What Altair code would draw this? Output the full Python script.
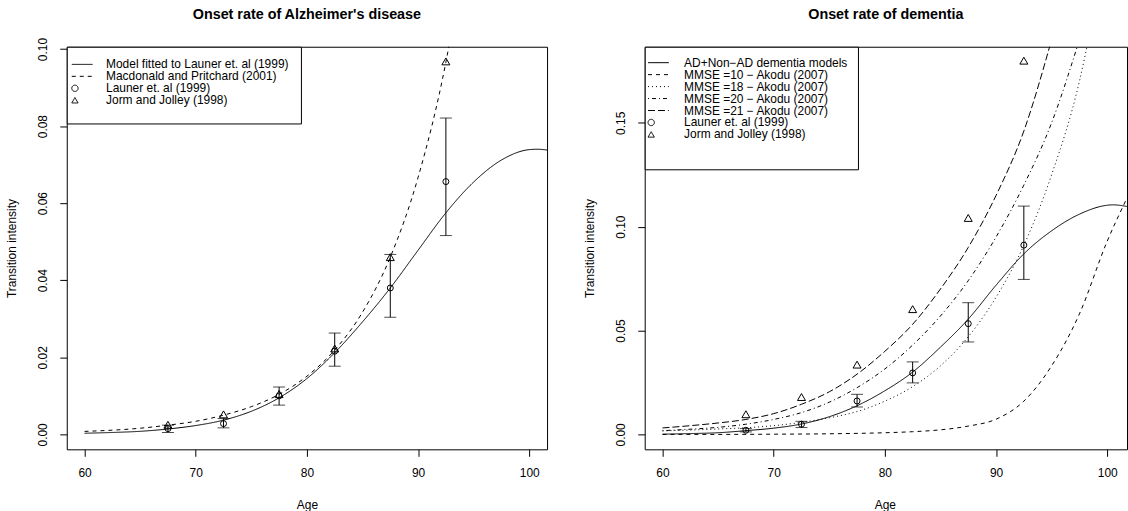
import altair as alt
import pandas as pd

FONT = "Liberation Sans"

# ---------------- Left panel: onset rate of Alzheimer's disease ----------------
ad_names = ["Model fitted to Launer et. al (1999)", "Macdonald and Pritchard (2001)",
            "Launer et. al (1999)", "Jorm and Jolley (1998)"]

ad_fit_age = [60, 62.5, 65, 67.5, 70, 72.5, 75, 77.5, 80, 82.5, 85, 87.5, 90, 92.5, 95, 97.5, 100, 100.7, 101.6]
ad_fit_rate = [0.0003, 0.0005, 0.0008, 0.0014, 0.0023, 0.0037, 0.0060, 0.0095, 0.0145, 0.0212, 0.0292,
               0.0380, 0.0478, 0.0575, 0.0655, 0.0712, 0.0739, 0.0740, 0.0738]

mp_age = [60, 62.5, 65, 67.5, 70, 72.5, 75, 77.5, 80, 82.5, 85, 87.5, 90, 92.5, 93.5]
mp_rate = [0.00078, 0.0011, 0.0016, 0.0024, 0.0034, 0.0050, 0.0072, 0.0104, 0.0151, 0.0219, 0.0317,
           0.0460, 0.0667, 0.0966, 0.1125]

pt_age = [67.5, 72.5, 77.5, 82.5, 87.5, 92.5]
launer_ad = [0.0015, 0.0028, 0.0100, 0.0216, 0.0380, 0.0656]
launer_ad_lo = [0.0005, 0.0017, 0.0076, 0.0177, 0.0304, 0.0516]
launer_ad_hi = [0.0024, 0.0041, 0.0123, 0.0263, 0.0467, 0.0821]
jorm_ad = [0.0025, 0.0052, 0.0105, 0.0223, 0.0460, 0.0968]

# ---------------- Right panel: onset rate of dementia ----------------
dem_names = ["AD+Non\u2212AD dementia models", "MMSE =10 \u2212 Akodu (2007)", "MMSE =18 \u2212 Akodu (2007)",
             "MMSE =20 \u2212 Akodu (2007)", "MMSE =21 \u2212 Akodu (2007)",
             "Launer et. al (1999)", "Jorm and Jolley (1998)"]

dem_fit_age = [60, 62.5, 65, 67.5, 70, 72.5, 75, 77.5, 80, 82.5, 85, 87.5, 90, 92.5, 95, 97.5, 100, 100.5, 101.8]
dem_fit_rate = [0.0001, 0.0004, 0.0008, 0.0018, 0.0030, 0.0050, 0.0085, 0.0138, 0.0210, 0.0300, 0.0420,
                0.0555, 0.0718, 0.0869, 0.0980, 0.1060, 0.1103, 0.1105, 0.1097]

mmse10_age = [60, 65, 70, 75, 80, 82.5, 85, 87.5, 90, 92.5, 95, 97.5, 100, 101.8]
mmse10_rate = [0.0000, 0.0000, 0.0001, 0.0003, 0.0008, 0.0013, 0.0022, 0.0040, 0.0073, 0.0160, 0.0330,
               0.0580, 0.0930, 0.1140]

mmse18_age = [60, 62.5, 65, 67.5, 70, 72.5, 75, 77.5, 80, 82.5, 85, 87.5, 90, 92.5, 95, 97.5, 98.5]
mmse18_rate = [0.0017, 0.0021, 0.0026, 0.0032, 0.0042, 0.0058, 0.0080, 0.0110, 0.0160, 0.0230, 0.0330,
               0.0470, 0.0660, 0.0910, 0.1250, 0.1700, 0.1950]

mmse20_age = [60, 62.5, 65, 67.5, 70, 72.5, 75, 77.5, 80, 82.5, 85, 87.5, 90, 92.5, 95, 97.5]
mmse20_rate = [0.0018, 0.0025, 0.0034, 0.0049, 0.0072, 0.0105, 0.0155, 0.0225, 0.0315, 0.0430, 0.0570,
               0.0740, 0.0950, 0.1200, 0.1500, 0.1900]

mmse21_age = [60, 62.5, 65, 67.5, 70, 72.5, 75, 77.5, 80, 82.5, 85, 87.5, 90, 92.5, 95]
mmse21_rate = [0.0031, 0.0042, 0.0055, 0.0072, 0.0100, 0.0145, 0.0205, 0.0290, 0.0400, 0.0530, 0.0700,
               0.0900, 0.1150, 0.1460, 0.1900]

launer_dem = [0.0020, 0.0049, 0.0161, 0.0296, 0.0533, 0.0911]
launer_dem_lo = [0.0012, 0.0033, 0.0132, 0.0248, 0.0445, 0.0746]
launer_dem_hi = [0.0028, 0.0063, 0.0193, 0.0349, 0.0634, 0.1099]
jorm_dem = [0.0097, 0.0180, 0.0336, 0.0603, 0.1042, 0.1799]

x_ticks = [60, 70, 80, 90, 100]
ad_y_ticks = [0.0, 0.02, 0.04, 0.06, 0.08, 0.10]
dem_y_ticks = [0.0, 0.05, 0.10, 0.15]

# ---------------- styling ----------------
H = 404
LINE_SYM = "M-1,0H5.6"
SOLID, DASHED, DOTTED, DOTDASH, LONGDASH = [1, 0], [4, 4], [1, 3], [1, 3, 4, 3], [7, 3]


def panel(title, names, dashes, shapes, curves, launer, lo, hi, jorm, ydomain, yticks,
          width, xmax, pad, label_off, title_pad, title_dy):
    rows = []
    for name, ages, rates in curves:
        for a, r in zip(ages, rates):
            rows.append({"series": name, "age": a, "rate": r})
    lines_df = pd.DataFrame(rows)
    circ_df = pd.DataFrame({"series": names[-2], "age": pt_age, "rate": launer})
    tri_df = pd.DataFrame({"series": names[-1], "age": pt_age, "rate": jorm})
    err_df = pd.DataFrame({"age": pt_age, "rate": lo, "hi": hi})
    cap_df = pd.DataFrame({"age": pt_age + pt_age, "rate": lo + hi})

    leg = alt.Legend(orient="top-left", offset=0, padding=pad, strokeColor="black", fillColor="white",
                     cornerRadius=0, labelFont=FONT, labelFontSize=12, labelColor="black",
                     labelLimit=400, labelOffset=label_off, symbolOffset=-9.5, symbolSize=40,
                     symbolStrokeWidth=1, symbolStrokeColor="black", symbolFillColor="transparent",
                     symbolOpacity=1, rowPadding=0, title=" ", titleOrient="bottom", titleFontSize=1,
                     titlePadding=title_pad)
    xaxis = alt.Axis(values=x_ticks, title="Age", titleX=482 / 2, titleY=55, titleBaseline="middle",
                     titleAlign="center", labelPadding=11)
    yaxis = alt.Axis(values=yticks, format=".2f", title="Transition intensity", labelAngle=-90,
                     labelAlign="center", labelBaseline="bottom", labelPadding=10,
                     titleX=-55, titleY=H / 2, titleAngle=-90, titleBaseline="middle",
                     titleAlign="center")
    x = alt.X("age:Q", scale=alt.Scale(domain=[58.4, xmax], nice=False, zero=False), axis=xaxis)
    y = alt.Y("rate:Q", scale=alt.Scale(domain=ydomain, nice=False, zero=False), axis=yaxis)
    shape = alt.Shape("series:N", scale=alt.Scale(domain=names, range=shapes), legend=leg)

    lines = alt.Chart(lines_df).mark_line(color="black", strokeWidth=1, clip=True,
                                          interpolate="monotone").encode(
        x=x, y=y,
        strokeDash=alt.StrokeDash("series:N", scale=alt.Scale(domain=names, range=dashes), legend=leg))
    err = alt.Chart(err_df).mark_rule(color="black", strokeWidth=1).encode(x=x, y=y, y2="hi:Q")
    caps = alt.Chart(cap_df).mark_tick(color="black", orient="horizontal", size=12,
                                       thickness=1).encode(x=x, y=y)
    circ = alt.Chart(circ_df).mark_point(filled=False, color="black", strokeWidth=1, opacity=1,
                                         size=36).encode(x=x, y=y, shape=shape)
    tri = alt.Chart(tri_df).mark_point(filled=False, color="black", strokeWidth=1, opacity=1,
                                       size=64).encode(x=x, y=y, shape=shape)
    return alt.layer(lines, err, caps, circ, tri).properties(
        width=width, height=H,
        title=alt.TitleParams(title, font=FONT, fontSize=14.4, fontWeight="bold", color="black",
                              frame="group", anchor="middle", baseline="alphabetic", offset=12.5,
                              dy=title_dy))


left = panel("Onset rate of Alzheimer's disease", ad_names,
             [SOLID, DASHED, SOLID, SOLID], [LINE_SYM, LINE_SYM, "circle", "triangle-up"],
             [(ad_names[0], ad_fit_age, ad_fit_rate), (ad_names[1], mp_age, mp_rate)],
             launer_ad, launer_ad_lo, launer_ad_hi, jorm_ad, [-0.00387, 0.1006], ad_y_ticks,
             482, 101.6, 11.7, 25.2, 3.8, 8)

right = panel("Onset rate of dementia", dem_names,
              [SOLID, DASHED, DOTTED, DOTDASH, LONGDASH, SOLID, SOLID],
              [LINE_SYM] * 5 + ["circle", "triangle-up"],
              [(dem_names[0], dem_fit_age, dem_fit_rate), (dem_names[1], mmse10_age, mmse10_rate),
               (dem_names[2], mmse18_age, mmse18_rate), (dem_names[3], mmse20_age, mmse20_rate),
               (dem_names[4], mmse21_age, mmse21_rate)],
              launer_dem, launer_dem_lo, launer_dem_hi, jorm_dem, [-0.00718, 0.1866], dem_y_ticks,
              484, 101.78, 10, 27, 17.6, 0)

chart = alt.hconcat(left, right, spacing=98, bounds="flush").resolve_scale(
    strokeDash="independent", shape="independent"
).resolve_legend(
    strokeDash="independent", shape="independent"
).properties(
    padding={"left": 5, "top": 5, "right": 0, "bottom": 0},
    background="white",
).configure_view(stroke="black", strokeWidth=1).configure_axis(
    labelFont=FONT, labelFontSize=12, labelColor="black", titleFont=FONT, titleFontSize=12,
    titleFontWeight="normal", titleColor="black", tickSize=7, tickColor="black", tickWidth=1,
    domain=False, grid=False,
)

chart.save("out.html", embed_options={"renderer": "svg", "actions": False})
